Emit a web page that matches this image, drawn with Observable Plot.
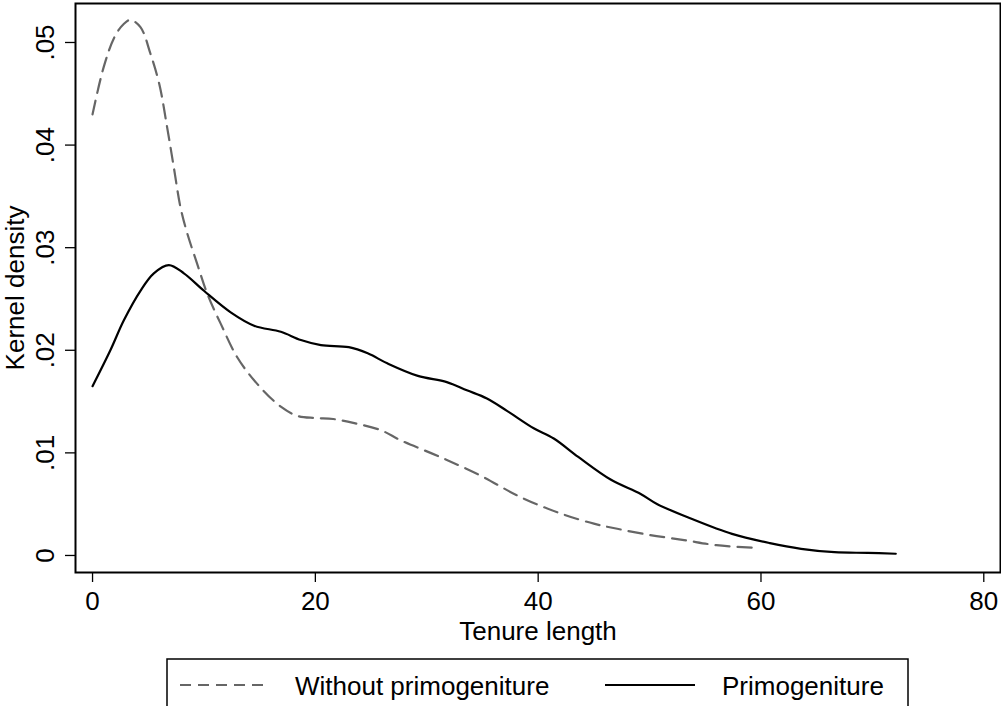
<!DOCTYPE html>
<html><head><meta charset="utf-8">
<script src="https://cdn.jsdelivr.net/npm/d3@7"></script>
<script src="https://cdn.jsdelivr.net/npm/@observablehq/plot@0.6"></script>
<style>
html,body{margin:0;padding:0;background:#fff;overflow:hidden;}
#chart svg{display:block}
</style></head><body><div id="chart"></div><script>
// Kernel density of tenure length
const tenureWithout = [0, 1.0, 2.0, 2.8, 3.4, 4.3, 5.2, 6.0, 6.7, 7.3, 7.9, 8.5, 9.4, 10.3, 11.5, 13.0, 14.8, 16.9, 18.4, 20.0, 21.6, 23.5, 25.9, 27.7, 31.2, 34.8, 38.4, 42.0, 45.0, 47.1, 50.0, 53.1, 56.0, 59.4];
const densityWithout = [0.0430, 0.0476, 0.0506, 0.0518, 0.0522, 0.0515, 0.0489, 0.0459, 0.0417, 0.0378, 0.0339, 0.0314, 0.0284, 0.0255, 0.0226, 0.0193, 0.0167, 0.0145, 0.0136, 0.0134, 0.0133, 0.0129, 0.0122, 0.0112, 0.0096, 0.0078, 0.0057, 0.0041, 0.0031, 0.0026, 0.0020, 0.0015, 0.0010, 0.00075];
const tenurePrimo = [0, 1.6, 2.8, 4.3, 5.5, 6.85, 8.2, 10.0, 12.4, 14.5, 16.9, 18.7, 20.5, 23.0, 24.7, 26.5, 29.2, 31.8, 33.6, 35.4, 37.2, 39.6, 41.4, 43.6, 46.5, 49.2, 50.7, 53.7, 57.4, 60.8, 63.6, 66.6, 69.6, 72.1];
const densityPrimo = [0.0165, 0.0200, 0.0229, 0.0258, 0.0275, 0.0283, 0.0275, 0.0258, 0.0237, 0.0224, 0.0218, 0.0210, 0.0205, 0.0203, 0.0197, 0.0187, 0.0175, 0.0169, 0.0161, 0.0153, 0.0141, 0.0124, 0.0114, 0.0096, 0.0074, 0.0060, 0.0050, 0.0036, 0.0021, 0.0012, 0.00065, 0.00032, 0.00025, 0.00017];
const xTicks = [0, 20, 40, 60, 80];
const yTicks = [0, 0.01, 0.02, 0.03, 0.04, 0.05];
const seriesNames = ["Without primogeniture", "Primogeniture"];
const xLabel = "Tenure length";
const yLabel = "Kernel density";

const withoutData = tenureWithout.map((x, i) => ({x, y: densityWithout[i]}));
const primoData = tenurePrimo.map((x, i) => ({x, y: densityPrimo[i]}));

const font = "'Liberation Sans', Arial, Helvetica, sans-serif";
const yFmt = d => d === 0 ? "0" : d3.format(".2f")(d).replace(/^0/, "");

const plot = Plot.plot({
  width: 1001, height: 650,
  marginLeft: 75, marginRight: 1, marginTop: 3, marginBottom: 78,
  style: {fontFamily: font, fontSize: "26px", color: "#000", background: "#fff", overflow: "visible"},
  x: {domain: [-1.53, 81.5]},
  y: {domain: [-0.00166, 0.0538]},
  marks: [
    Plot.axisX({ticks: xTicks, tickSize: 10, tickPadding: 9, strokeWidth: 1.3, fill: "#000",
      label: xLabel, labelAnchor: "center", labelOffset: 67, labelArrow: "none"}),
    Plot.axisY({ticks: yTicks, tickSize: 10, tickPadding: 12, tickRotate: -90, strokeWidth: 1.3, fill: "#000",
      tickFormat: yFmt, label: yLabel, labelAnchor: "center", labelOffset: 70, labelArrow: "none"}),
    Plot.frame({stroke: "#000", strokeWidth: 2}),
    Plot.line(withoutData, {x: "x", y: "y", stroke: "#666", strokeWidth: 2.2, strokeDasharray: "14,8", curve: "catmull-rom"}),
    Plot.line(primoData, {x: "x", y: "y", stroke: "#000", strokeWidth: 2.2, curve: "catmull-rom"})
  ]
});
document.getElementById("chart").appendChild(plot);

// Legend below the chart
const leg = d3.select("#chart").append("svg")
  .attr("width", 1001).attr("height", 56)
  .style("display", "block")
  .style("font-family", font).style("font-size", "26px");
leg.append("rect").attr("x", 167).attr("y", 9).attr("width", 741).attr("height", 70)
  .attr("fill", "none").attr("stroke", "#000").attr("stroke-width", 1.5);
leg.append("line").attr("x1", 180).attr("x2", 266).attr("y1", 35).attr("y2", 35)
  .attr("stroke", "#666").attr("stroke-width", 2.2).attr("stroke-dasharray", "11,7");
leg.append("text").attr("x", 295).attr("y", 45).attr("fill", "#000").text(seriesNames[0]);
leg.append("line").attr("x1", 605).attr("x2", 695).attr("y1", 35).attr("y2", 35)
  .attr("stroke", "#000").attr("stroke-width", 2.2);
leg.append("text").attr("x", 722).attr("y", 45).attr("fill", "#000").text(seriesNames[1]);
</script></body></html>
